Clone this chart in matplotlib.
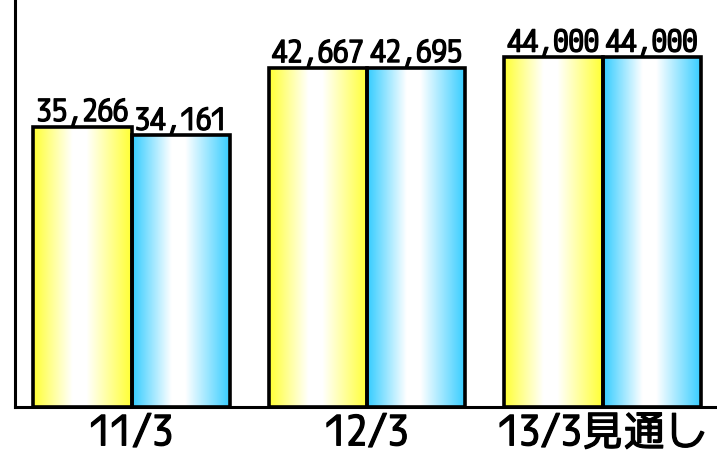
import numpy as np
import matplotlib
matplotlib.use("Agg")
from matplotlib import pyplot as plt
from matplotlib import patheffects

categories = ['11/3', '12/3', '13/3見通し']
series_a = [35266, 42667, 44000]
series_b = [34161, 42695, 44000]

plt.rcParams['font.family'] = ['M PLUS 1 Code', 'Noto Sans CJK JP', 'DejaVu Sans']

# the font only ships one weight, thicken it a bit with a stroke
THICK = [patheffects.withStroke(linewidth=0.9, foreground='black')]


def gradient(edge, n=256):
    # edge colour -> white band in the middle -> edge colour
    t = np.linspace(0, 1, n)
    w = np.interp(t, [0, 0.40, 0.54, 1], [0, 1, 1, 0])
    edge = np.asarray(edge, dtype=float)
    g = edge[None, :] * (1 - w[:, None]) + w[:, None]
    return g[None, :, :]


YELLOW = (1.0, 1.0, 0.2)
BLUE = (0.2, 0.8, 1.0)

fig = plt.figure(figsize=(7.17, 4.57), dpi=100)
ax = fig.add_axes([15 / 717, 50 / 457, 1 - 15 / 717, 407 / 457])

x = np.arange(len(categories))
width = 0.418

for offset, vals, col in ((-width / 2, series_a, YELLOW), (width / 2, series_b, BLUE)):
    bars = ax.bar(x + offset, vals, width, facecolor='none', edgecolor='black',
                  linewidth=2.6, zorder=3)
    for rect, v in zip(bars, vals):
        x0 = rect.get_x()
        im = ax.imshow(gradient(col), extent=(x0, x0 + rect.get_width(), 0, rect.get_height()),
                       aspect='auto', zorder=2, interpolation='bilinear')
        im.set_clip_path(rect)
        ax.annotate(f'{v:,}', (rect.get_x() + rect.get_width() / 2, v),
                    xytext=(0, 4), textcoords='offset points',
                    ha='center', va='baseline', fontsize=22, color='black',
                    path_effects=THICK)

ax.set_xlim(-0.495, 2.486)
ax.set_ylim(0, 51200)

ax.set_xticks(x)
ax.set_xticklabels(categories, fontsize=30)
for lbl in ax.get_xticklabels():
    lbl.set_path_effects(THICK)
ax.tick_params(axis='x', length=0, pad=6)
ax.set_yticks([])

for s in ('top', 'right'):
    ax.spines[s].set_visible(False)
ax.spines['left'].set_linewidth(2.2)
ax.spines['bottom'].set_linewidth(2.2)

fig.savefig('out.png', dpi=100)
